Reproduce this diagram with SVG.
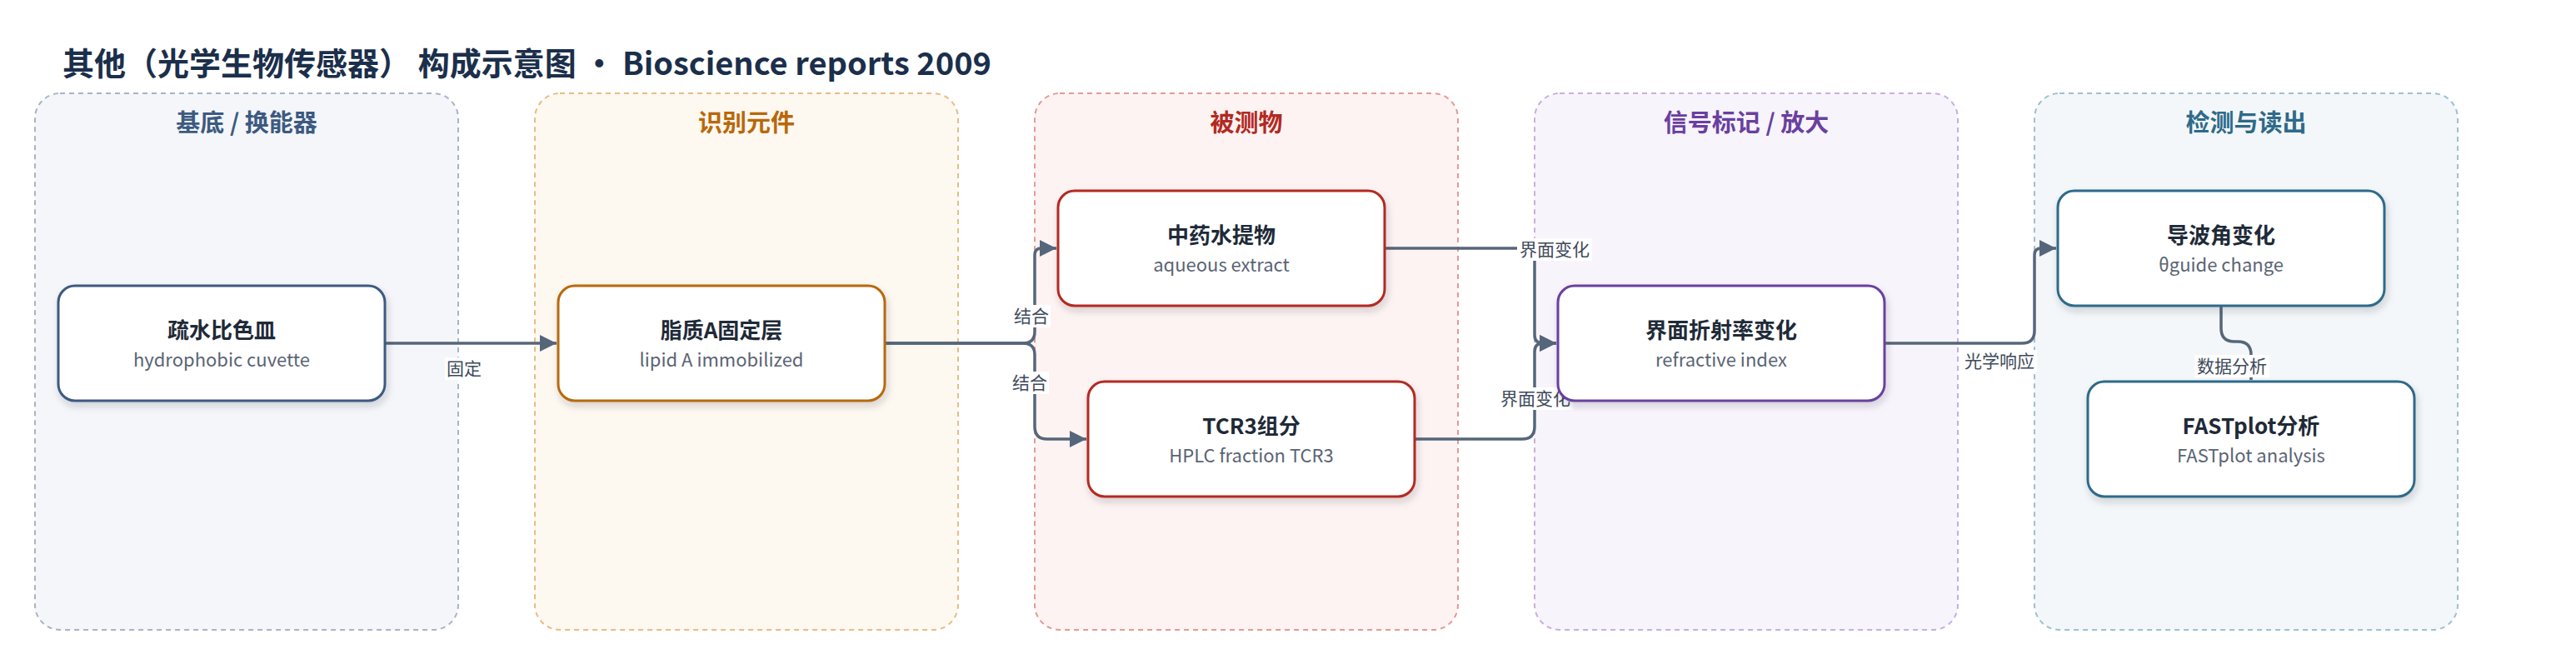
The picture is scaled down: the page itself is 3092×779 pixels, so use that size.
<svg xmlns="http://www.w3.org/2000/svg" width="3092" height="779" viewBox="0 0 3092 779">
<style>
text{font-family:"Noto Sans CJK SC","Noto Sans",sans-serif;}
.title{font-size:38px;font-weight:700;fill:#1b2f4b;}
.ct{font-size:29px;font-weight:700;text-anchor:middle;}
.cl{stroke-width:2;stroke-dasharray:6 5;}
.node rect{fill:#fff;stroke-width:3;filter:url(#sh);}
.nt{font-size:26px;font-weight:700;fill:#1e2a38;text-anchor:middle;}
.ns{font-size:22px;fill:#5a6474;text-anchor:middle;}
.edge{fill:none;stroke:#56667a;stroke-width:3.5;}
.lb{fill:#fff;}
.lt{font-size:21px;fill:#3e4a5a;text-anchor:middle;}
</style>
<defs>
<filter id="sh" x="-10%" y="-20%" width="120%" height="150%">
<feDropShadow dx="2" dy="5" stdDeviation="4" flood-color="#1e2a38" flood-opacity="0.18"/>
</filter>
<marker id="ar" markerUnits="userSpaceOnUse" markerWidth="20" markerHeight="20" refX="20" refY="10" orient="auto">
<path d="M0,0 L20,10 L0,20 z" fill="#56667a"/>
</marker>
</defs>
<rect width="3092" height="779" fill="#fff"/>
<text class="title" x="75" y="90">其他（光学生物传感器） 构成示意图 · Bioscience reports 2009</text>

<g id="cluster-substrate">
<rect class="cl" x="42" y="112" width="508" height="644" rx="30" fill="#f4f6fa" stroke="#a8b4c6"/>
<text class="ct" x="296" y="158" fill="#3d5a80">基底 / 换能器</text>
</g>
<g id="cluster-recognition">
<rect class="cl" x="642" y="112" width="508" height="644" rx="30" fill="#fdf8f0" stroke="#e6bd84"/>
<text class="ct" x="896" y="158" fill="#b8680a">识别元件</text>
</g>
<g id="cluster-analyte">
<rect class="cl" x="1242" y="112" width="508" height="644" rx="30" fill="#fdf3f2" stroke="#e49a95"/>
<text class="ct" x="1496" y="158" fill="#b22a22">被测物</text>
</g>
<g id="cluster-signal">
<rect class="cl" x="1842" y="112" width="508" height="644" rx="30" fill="#f7f4fb" stroke="#c9aee0"/>
<text class="ct" x="2096" y="158" fill="#6b3fa0">信号标记 / 放大</text>
</g>
<g id="cluster-readout">
<rect class="cl" x="2442" y="112" width="508" height="644" rx="30" fill="#f3f7f9" stroke="#9fc0cf"/>
<text class="ct" x="2696" y="158" fill="#2e6a8a">检测与读出</text>
</g>

<g id="connectors">
<path class="edge" d="M462,412 L668,412" marker-end="url(#ar)"/>
<path class="edge" d="M1062,412 L1228,412 Q1242,412 1242,398 L1242,306 Q1242,298 1250,298 L1268,298" marker-end="url(#ar)"/>
<path class="edge" d="M1062,412 L1228,412 Q1242,412 1242,426 L1242,512 Q1242,527 1257,527 L1304,527" marker-end="url(#ar)"/>
<path class="edge" d="M1662,298 L1842,298 L1842,402 Q1842,412 1852,412 L1868,412" marker-end="url(#ar)"/>
<path class="edge" d="M1698,527 L1827,527 Q1842,527 1842,512 L1842,422 Q1842,412 1852,412 L1868,412" marker-end="url(#ar)"/>
<path class="edge" d="M2262,412 L2427,412 Q2442,412 2442,397 L2442,306 Q2442,298 2450,298 L2468,298" marker-end="url(#ar)"/>
<path class="edge" d="M2666,367 L2666,394 Q2666,410 2682,410 L2686,410 Q2702,410 2702,426 L2702,456" marker-end="url(#ar)"/>
<g id="edge-labels">
<rect class="lb" x="534" y="429" width="46" height="27"/><text class="lt" x="557" y="450">固定</text>
<rect class="lb" x="1215" y="366" width="46" height="27"/><text class="lt" x="1238" y="387">结合</text>
<rect class="lb" x="1213" y="446" width="46" height="27"/><text class="lt" x="1236" y="467">结合</text>
<rect class="lb" x="1821" y="286" width="90" height="27"/><text class="lt" x="1866" y="307">界面变化</text>
<rect class="lb" x="1798" y="465" width="90" height="27"/><text class="lt" x="1843" y="486">界面变化</text>
<rect class="lb" x="2355" y="420" width="90" height="27"/><text class="lt" x="2400" y="441">光学响应</text>
<rect class="lb" x="2634" y="426" width="90" height="27"/><text class="lt" x="2679" y="447">数据分析</text>
</g>
</g>

<g id="node-cuvette" class="node">
<rect x="70" y="343" width="392" height="138" rx="20" stroke="#3d5a80"/>
<text class="nt" x="266" y="406">疏水比色皿</text>
<text class="ns" x="266" y="440">hydrophobic cuvette</text>
</g>
<g id="node-lipidA" class="node">
<rect x="670" y="343" width="392" height="138" rx="20" stroke="#b8690a"/>
<text class="nt" x="866" y="406">脂质A固定层</text>
<text class="ns" x="866" y="440">lipid A immobilized</text>
</g>
<g id="node-extract" class="node">
<rect x="1270" y="229" width="392" height="138" rx="20" stroke="#b22a22"/>
<text class="nt" x="1466" y="292">中药水提物</text>
<text class="ns" x="1466" y="326">aqueous extract</text>
</g>
<g id="node-tcr3" class="node">
<rect x="1306" y="458" width="392" height="138" rx="20" stroke="#b22a22"/>
<text class="nt" x="1502" y="521">TCR3组分</text>
<text class="ns" x="1502" y="555">HPLC fraction TCR3</text>
</g>
<g id="node-ri" class="node">
<rect x="1870" y="343" width="392" height="138" rx="20" stroke="#6b3fa0"/>
<text class="nt" x="2066" y="406">界面折射率变化</text>
<text class="ns" x="2066" y="440">refractive index</text>
</g>
<g id="node-theta" class="node">
<rect x="2470" y="229" width="392" height="138" rx="20" stroke="#2f6b8a"/>
<text class="nt" x="2666" y="292">导波角变化</text>
<text class="ns" x="2666" y="326">θguide change</text>
</g>
<g id="node-fastplot" class="node">
<rect x="2506" y="458" width="392" height="138" rx="20" stroke="#2f6b8a"/>
<text class="nt" x="2702" y="521">FASTplot分析</text>
<text class="ns" x="2702" y="555">FASTplot analysis</text>
</g>
</svg>
